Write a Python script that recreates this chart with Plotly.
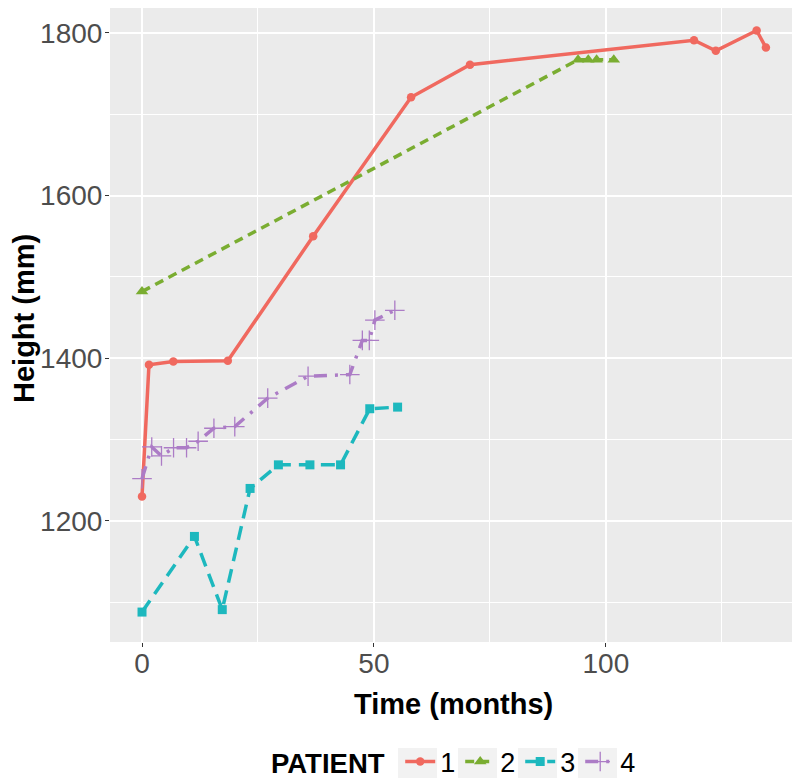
import plotly.graph_objects as go

# ---- data ----
p1_time = [0, 1.5, 6.75, 18.5, 36.9, 58, 70.7, 119, 123.7, 132.5, 134.5]
p1_height = [1230, 1392, 1396, 1397, 1550, 1721, 1761, 1791, 1778, 1803, 1782]

p2_time = [0, 94, 96.2, 98, 101.7]
p2_height = [1482, 1767, 1767, 1767, 1767]

p3_time = [0, 11.3, 17.3, 23.3, 29.4, 36.2, 42.8, 49.1, 55.1]
p3_height = [1088, 1181, 1091, 1240, 1269, 1269, 1269, 1338, 1340]

p4_time = [0, 2.1, 4.2, 6.8, 9.6, 12.1, 15.5, 20, 27.1, 35.8, 44.8, 47.5, 49, 50.2, 54.5]
p4_height = [1252, 1291, 1280, 1290, 1290, 1298, 1314, 1316, 1351, 1378, 1380, 1422, 1422, 1447, 1459]

patients = ["1", "2", "3", "4"]
x_ticks = [0, 50, 100]
y_ticks = [1200, 1400, 1600, 1800]

colors = ["#F0695F", "#7AAD31", "#1DB8BE", "#AC7CC6"]

fig = go.Figure()
fig.add_trace(go.Scatter(
    x=p1_time, y=p1_height, name=patients[0], mode="lines+markers",
    line=dict(color=colors[0], width=3.5),
    marker=dict(symbol="circle", size=8.5, color=colors[0])))
fig.add_trace(go.Scatter(
    x=p2_time, y=p2_height, name=patients[1], mode="lines+markers",
    line=dict(color=colors[1], width=3.5, dash="9px,6px"),
    marker=dict(symbol="triangle-up", size=11, color=colors[1])))
fig.add_trace(go.Scatter(
    x=p3_time, y=p3_height, name=patients[2], mode="lines+markers",
    line=dict(color=colors[2], width=3.5, dash="14px,8px"),
    marker=dict(symbol="square", size=9, color=colors[2])))
fig.add_trace(go.Scatter(
    x=p4_time, y=p4_height, name=patients[3], mode="lines+markers",
    line=dict(color=colors[3], width=3.5, dash="13px,8px,3px,8px"),
    marker=dict(symbol="cross-thin-open", size=14, color=colors[3],
                line=dict(color=colors[3], width=1.3))))

axis_common = dict(
    showline=False, zeroline=False, automargin=False,
    gridcolor="white", gridwidth=1.5,
    ticks="outside", ticklen=4, tickwidth=1, tickcolor="#333333",
    tickfont=dict(family="Liberation Sans, Arial", size=28, color="#4D4D4D"),
)

# page body has an 8px margin: convert reference screen pixels to paper coords
PL, PW, PB, PH = 102, 687, 634, 634
def px2paper_x(px):
    return (px - 8 - PL) / PW
def px2paper_y(py):
    return (PB - (py - 8)) / PH

# grey legend key backgrounds (ggplot style)
key_shapes = []
for k in range(4):
    x0 = 398 + 60 * k
    key_shapes.append(dict(
        type="rect", xref="paper", yref="paper", layer="below",
        x0=px2paper_x(x0), x1=px2paper_x(x0 + 39),
        y0=px2paper_y(778), y1=px2paper_y(748),
        fillcolor="#F2F2F2", line=dict(width=0)))

title_font = dict(family="Liberation Sans, Arial", size=29, color="black")
annotations = [
    dict(text="<b>Time (months)</b>", xref="paper", yref="paper",
         x=0.5, y=px2paper_y(704), xanchor="center", yanchor="middle",
         showarrow=False, font=title_font),
    dict(text="<b>Height (mm)</b>", xref="paper", yref="paper", textangle=-90,
         x=px2paper_x(8), y=px2paper_y(318), xanchor="left", yanchor="middle",
         borderpad=0, borderwidth=0,
         showarrow=False, font=title_font),
]

fig.update_layout(
    width=800, height=781,
    margin=dict(l=PL, r=800 - PL - PW, t=0, b=781 - PH, autoexpand=False),
    paper_bgcolor="white", plot_bgcolor="#EBEBEB",
    font=dict(family="Liberation Sans, Arial", color="black"),
    shapes=key_shapes,
    annotations=annotations,
    xaxis=dict(
        range=[-6.9, 141.2], tickvals=x_ticks, ticklabelstandoff=-8,
        minor=dict(dtick=25, tick0=0, showgrid=True, gridcolor="white", gridwidth=0.7, ticks=""),
        **axis_common),
    yaxis=dict(
        range=[1051.2, 1830.7], tickvals=y_ticks, ticklabelstandoff=-3,
        minor=dict(dtick=100, tick0=1100, showgrid=True, gridcolor="white", gridwidth=0.7, ticks=""),
        **axis_common),
    legend=dict(
        orientation="h", x=px2paper_x(269), xanchor="left",
        y=px2paper_y(762), yanchor="middle",
        title=dict(text="<b>PATIENT</b>&nbsp;", font=dict(size=27.5, color="black"), side="left"),
        font=dict(size=27, color="black"),
        itemwidth=30, entrywidth=15, bgcolor="rgba(0,0,0,0)", tracegroupgap=0,
    ),
)

fig.write_html("out.html")
